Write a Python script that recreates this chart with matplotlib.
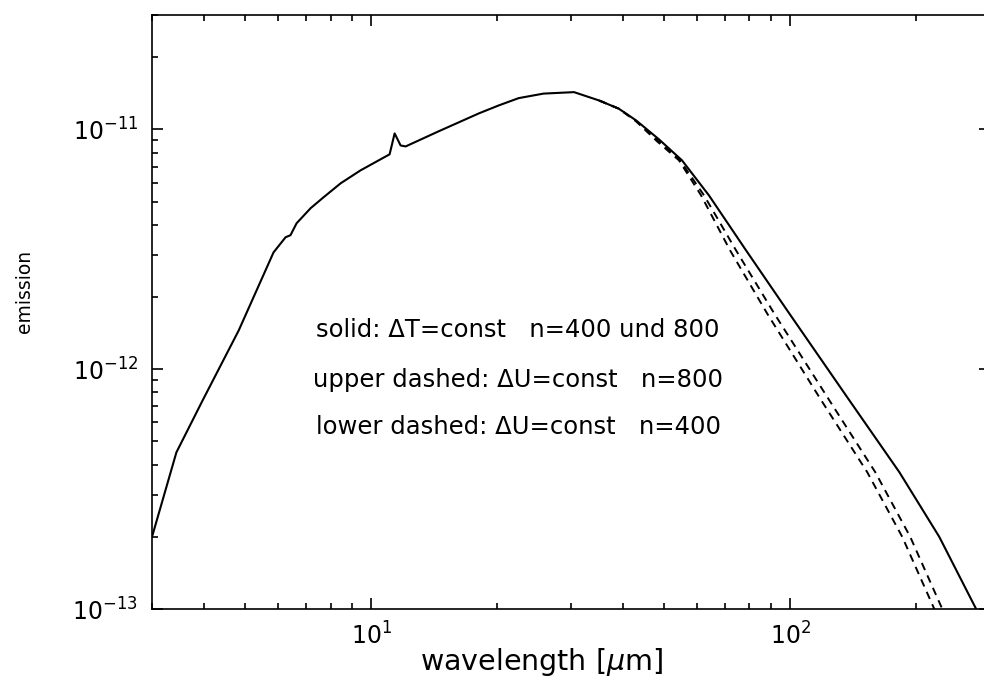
import numpy as np
import matplotlib
matplotlib.use("Agg")
import matplotlib.pyplot as plt
from matplotlib.ticker import NullFormatter

# solid curve: dT = const, n = 400 and 800
solid_wl = [3.0, 3.43, 3.96, 4.83, 5.85, 6.25, 6.42, 6.64, 7.17, 7.70, 8.46, 9.44,
            11.07, 11.38, 11.76, 12.09, 14.5, 18.1, 20.2, 22.5, 25.8, 30.5, 35.0,
            39.0, 42.9, 48.6, 55.2, 64.0, 78.5, 99.5, 138.4, 182.3, 227.0, 278.0, 300.0]
solid_em = [2.0e-13, 4.5e-13, 7.4e-13, 1.45e-12, 3.07e-12, 3.55e-12, 3.62e-12, 4.06e-12,
            4.69e-12, 5.21e-12, 5.96e-12, 6.75e-12, 7.87e-12, 9.62e-12, 8.57e-12, 8.49e-12,
            9.82e-12, 1.167e-11, 1.26e-11, 1.35e-11, 1.41e-11, 1.43e-11, 1.32e-11,
            1.22e-11, 1.09e-11, 9.1e-12, 7.43e-12, 5.31e-12, 3.13e-12, 1.71e-12, 7.43e-13,
            3.72e-13, 2.0e-13, 1.0e-13, 7.9e-14]

# upper dashed: dU = const, n = 800
up_wl = [35.0, 39.0, 42.9, 48.4, 54.6, 62.3, 74.3, 91.6, 124.0, 159.7, 193.5, 230.8, 241.2]
up_em = [1.32e-11, 1.22e-11, 1.085e-11, 9.0e-12, 7.43e-12, 5.31e-12, 3.13e-12, 1.71e-12,
         7.43e-13, 3.72e-13, 2.0e-13, 1.0e-13, 8.4e-14]

# lower dashed: dU = const, n = 400
lo_wl = [35.0, 39.0, 42.9, 48.2, 54.3, 61.3, 71.9, 88.1, 118.6, 152.8, 185.2, 220.9, 230.8]
lo_em = [1.32e-11, 1.22e-11, 1.08e-11, 8.9e-12, 7.43e-12, 5.31e-12, 3.13e-12, 1.71e-12,
         7.43e-13, 3.72e-13, 2.0e-13, 1.0e-13, 8.4e-14]

notes = ["solid: ΔT=const   n=400 und 800",
         "upper dashed: ΔU=const   n=800",
         "lower dashed: ΔU=const   n=400"]

fig = plt.figure(figsize=(9.84, 6.8), dpi=100)
ax = fig.add_axes([0.1545, 0.1044, 0.8516, 0.8736])

ax.plot(solid_wl, solid_em, color="black", lw=1.5)
ax.plot(up_wl, up_em, color="black", lw=1.4, ls=(0, (4, 3)))
ax.plot(lo_wl, lo_em, color="black", lw=1.4, ls=(0, (4, 3)))

ax.set_xscale("log")
ax.set_yscale("log")
ax.set_xticks([10, 100])
ax.set_yticks([1e-13, 1e-12, 1e-11])
ax.set_xlim(3, 300)
ax.set_ylim(1e-13, 3e-11)

for s in ax.spines.values():
    s.set_linewidth(1.2)
ax.tick_params(which="both", direction="in", top=True, right=True, width=1.2)
ax.tick_params(which="major", length=8, labelsize=17, pad=10)
ax.tick_params(which="minor", length=4.5)
ax.xaxis.set_minor_formatter(NullFormatter())
ax.yaxis.set_minor_formatter(NullFormatter())

# axis titles placed by hand, they are off-centre in the original
fig.text(0.55, 0.027, r"wavelength [$\mu$m]", fontsize=20.5, ha="center", va="center")
fig.text(0.0254, 0.571, "emission", fontsize=13.5, rotation=90, ha="center", va="center")

for yy, t in zip([0.470, 0.3855, 0.306], notes):
    ax.text(0.437, yy, t, transform=ax.transAxes, ha="center", va="center", fontsize=17.5)

fig.savefig("out.png", dpi=100)
